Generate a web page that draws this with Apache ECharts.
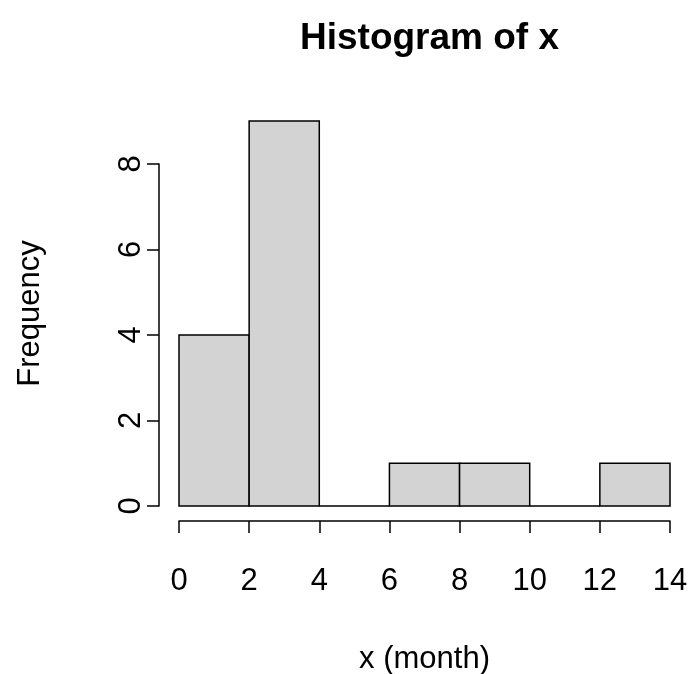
<!DOCTYPE html>
<html>
<head>
<meta charset="utf-8">
<script src="https://cdn.jsdelivr.net/npm/echarts@6/dist/echarts.min.js"></script>
<style>
html,body{margin:0;padding:0;background:#fff;}
#c{width:690px;height:674px;}
</style>
</head>
<body>
<div id="c"></div>
<script>
const binStarts = [0, 2, 4, 6, 8, 10, 12];
const binEnds = [2, 4, 6, 8, 10, 12, 14];
const counts = [4, 9, 0, 1, 1, 0, 1];
const xTicks = [0, 2, 4, 6, 8, 10, 12, 14];
const yTicks = [0, 2, 4, 6, 8];

const FONT = 'Liberation Sans, Arial, Helvetica, sans-serif';
const FS = 31;
const LW = 1.5;
const data = binStarts.map((s, i) => [s, binEnds[i], counts[i]]);

const chart = echarts.init(document.getElementById('c'), null, {renderer: 'canvas'});
chart.setOption({
  animation: false,
  backgroundColor: '#fff',
  title: {
    text: 'Histogram of x',
    left: 424.5,
    textAlign: 'center',
    top: 15,
    textStyle: {fontFamily: FONT, fontWeight: 'bold', fontSize: 37, color: '#000'}
  },
  grid: [
    {left: 179, right: 20, top: 121, bottom: 168, containLabel: false, outerBoundsMode: 'none'},
    {left: 179, right: 20, top: 164, bottom: 168, containLabel: false, outerBoundsMode: 'none'}
  ],
  xAxis: [
    {
      gridIndex: 0, type: 'value', min: 0, max: 14, interval: 2,
      offset: 15,
      name: 'x (month)', nameLocation: 'middle', nameGap: 123,
      nameTextStyle: {fontFamily: FONT, fontSize: FS, color: '#000'},
      axisLine: {show: true, onZero: false, lineStyle: {color: '#000', width: LW}},
      axisTick: {show: true, length: 12, inside: false, lineStyle: {color: '#000', width: LW}},
      axisLabel: {show: true, margin: 45, fontFamily: FONT, fontSize: FS, color: '#000',
        formatter: v => xTicks.includes(v) ? String(v) : ''},
      splitLine: {show: false}
    },
    {gridIndex: 1, type: 'value', min: 0, max: 14, show: false}
  ],
  yAxis: [
    {
      gridIndex: 0, type: 'value', min: 0, max: 9,
      name: 'Frequency', nameLocation: 'middle', nameGap: 133, nameRotate: 90,
      nameTextStyle: {fontFamily: FONT, fontSize: FS, color: '#000'},
      axisLine: {show: false, onZero: false}, axisTick: {show: false}, axisLabel: {show: false},
      splitLine: {show: false}
    },
    {
      gridIndex: 1, type: 'value', min: 0, max: 8, interval: 2,
      offset: 20,
      axisLine: {show: true, onZero: false, lineStyle: {color: '#000', width: LW}},
      axisTick: {show: true, length: 12, inside: false, lineStyle: {color: '#000', width: LW}},
      axisLabel: {show: true, rotate: 90, margin: 12, fontFamily: FONT, fontSize: FS, color: '#000',
        formatter: v => yTicks.includes(v) ? String(v) : ''},
      splitLine: {show: false}
    }
  ],
  series: [{
    type: 'custom',
    xAxisIndex: 0, yAxisIndex: 0,
    data: data,
    encode: {x: [0, 1], y: 2},
    renderItem: function (params, api) {
      const p0 = api.coord([api.value(0), api.value(2)]);
      const p1 = api.coord([api.value(1), 0]);
      return {
        type: 'rect',
        shape: {x: p0[0], y: p0[1], width: p1[0] - p0[0], height: p1[1] - p0[1]},
        style: {fill: '#D3D3D3', stroke: '#000', lineWidth: LW}
      };
    }
  }]
});
</script>
</body>
</html>
